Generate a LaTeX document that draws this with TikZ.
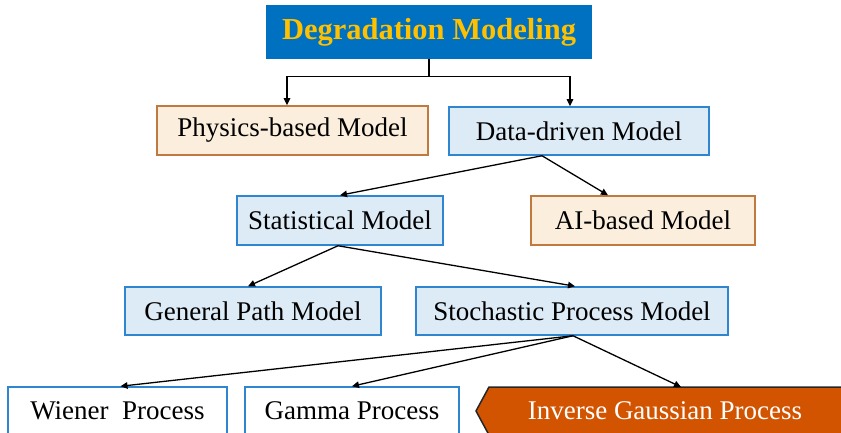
\documentclass[tikz,border=0pt]{standalone}
\usepackage{fontspec}
\setmainfont{Liberation Serif}
\usetikzlibrary{arrows.meta,calc}
\definecolor{topblue}{HTML}{0070C0}
\definecolor{gold}{HTML}{FFC000}
\definecolor{lblue}{HTML}{DDEBF7}
\definecolor{bblue}{HTML}{2E86D1}
\definecolor{lorange}{HTML}{FBEEDC}
\definecolor{borange}{HTML}{C07A40}
\definecolor{igfill}{HTML}{D35400}
\begin{document}
\begin{tikzpicture}[x=1pt,y=-1pt,
  box/.style={draw, line width=1.5pt, minimum height=48pt, inner sep=0pt, font=\fontsize{27}{32}\selectfont},
  bluebox/.style={box, draw=bblue, fill=lblue},
  orbox/.style={box, draw=borange, fill=lorange},
  whitebox/.style={box, draw=bblue, fill=white},
  arr/.style={-{Triangle[length=7pt,width=6.5pt]}, line width=1.3pt}]
\useasboundingbox (0,0) rectangle (841,433);
\clip (0,0) rectangle (841,433);

\node[box, draw=topblue, fill=topblue, minimum width=324pt, minimum height=52pt,
      font=\fontsize{30.5}{36}\selectfont\bfseries, text=gold] (top) at (429,32) {Degradation Modeling};

\node[orbox, minimum width=271pt, minimum height=49pt] (phys) at (292.5,130.5) {Physics-based Model};
\node[bluebox, minimum width=260pt] (data) at (579,131) {Data-driven Model};

\node[bluebox, minimum width=206pt, minimum height=49pt] (stat) at (340,220.5) {Statistical Model};
\node[orbox, minimum width=224pt, minimum height=49pt] (ai) at (643,220.5) {AI-based Model};

\node[bluebox, minimum width=256pt] (gen) at (253,311) {General Path Model};
\node[bluebox, minimum width=312pt] (stoch) at (572,311) {Stochastic Process Model};

\node[whitebox, minimum width=219pt] (wiener) at (117.5,411) {Wiener\ \ Process};
\node[whitebox, minimum width=214pt] (gamma) at (352,411) {Gamma Process};

\coordinate (igtip) at (476,411);
\coordinate (igtl) at (489,387);
\coordinate (igtr) at (850,387);
\coordinate (igbr) at (850,435);
\coordinate (igbl) at (489,435);
\draw[line width=1.5pt, draw=black!85, fill=igfill] (igtip) -- (igtl) -- (igtr) -- (igbr) -- (igbl) -- cycle;
\node[font=\fontsize{27}{32}\selectfont, text=white, inner sep=0pt] (ig) at (665,411) {Inverse Gaussian Process};
\coordinate (igin) at (681,387);

\draw[arr] (top.south) -- ++(0,18) -| ([xshift=-5.5pt]phys.north);
\draw[arr] (top.south) -- ++(0,18) -| ([xshift=-9pt]data.north);

\draw[arr] ([xshift=-37pt]data.south) -- (stat.north);
\draw[arr] ([xshift=-37pt]data.south) -- ([xshift=-35pt]ai.north);

\draw[arr] ([xshift=-2pt]stat.south) -- ([xshift=-5pt]gen.north);
\draw[arr] ([xshift=-2pt]stat.south) -- ([xshift=3pt]stoch.north);

\draw[arr] ([xshift=1pt]stoch.south) -- ([xshift=3pt]wiener.north);
\draw[arr] ([xshift=1pt]stoch.south) -- (gamma.north);
\draw[arr] ([xshift=1pt]stoch.south) -- (igin);
\end{tikzpicture}
\end{document}
